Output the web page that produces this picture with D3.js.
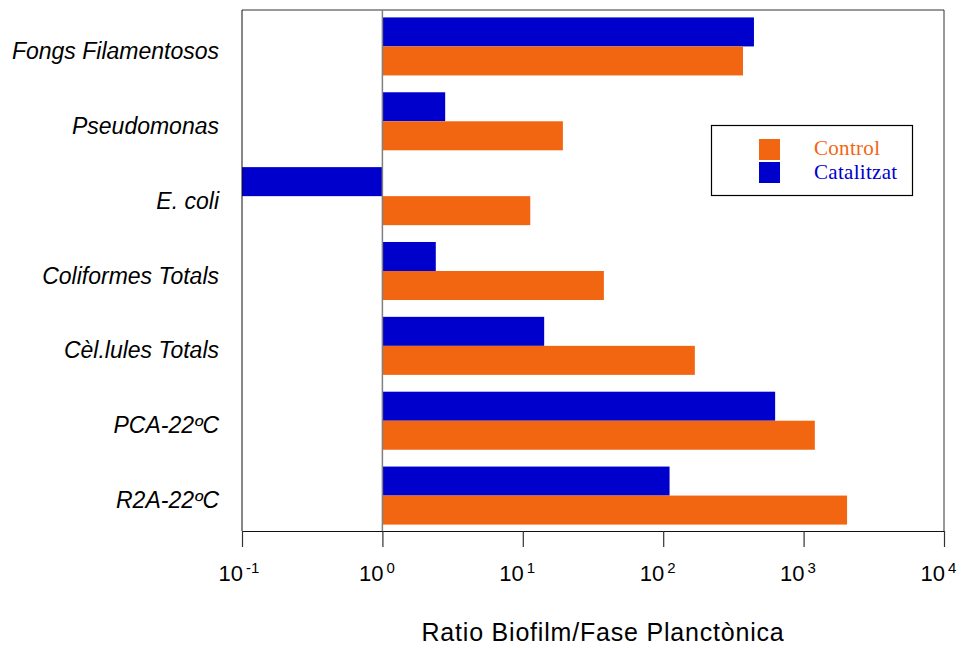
<!DOCTYPE html>
<html>
<head>
<meta charset="utf-8">
<script src="https://cdn.jsdelivr.net/npm/d3@7"></script>
<style>
body { margin: 0; background: #fff; }
</style>
</head>
<body>
<div id="chart"></div>
<script>
var categories = ["Fongs Filamentosos", "Pseudomonas", "E. coli", "Coliformes Totals", "Cèl.lules Totals", "PCA-22ºC", "R2A-22ºC"];
var series = ["Catalitzat", "Control"];
var catalitzat = [443, 2.8, 0.1, 2.4, 14.2, 627, 111];
var control = [370, 19.3, 11.3, 37.8, 168, 1202, 2040];
var tickValues = [0.1, 1, 10, 100, 1000, 10000];
var tickExp = ["-1", "0", "1", "2", "3", "4"];

var width = 964, height = 650;
var colors = { "Control": "#F26612", "Catalitzat": "#0000CC" };

var svg = d3.select("#chart").append("svg")
    .attr("width", width)
    .attr("height", height);

// escales
var x = d3.scaleLog().domain([0.1, 10000]).range([242, 944]);
var y0 = d3.scaleBand().domain(categories).range([9, 533]);
var y1 = d3.scaleBand().domain(series).range([0, y0.bandwidth()]).paddingOuter(0.29);

var rows = categories.map(function(c, i) {
    return { cat: c, vals: [
        { s: "Catalitzat", v: catalitzat[i] },
        { s: "Control", v: control[i] }
    ]};
});

// barres (comencen a 10^0)
var g = svg.selectAll("g.row").data(rows).enter().append("g")
    .attr("transform", function(d) { return "translate(0," + y0(d.cat) + ")"; });

g.selectAll("rect").data(function(d) { return d.vals; }).enter().append("rect")
    .attr("x", function(d) { return Math.min(x(1), x(d.v)); })
    .attr("width", function(d) { return Math.abs(x(d.v) - x(1)); })
    .attr("y", function(d) { return y1(d.s); })
    .attr("height", y1.bandwidth())
    .attr("fill", function(d) { return colors[d.s]; });

// marc
svg.append("line").attr("x1", 242).attr("x2", 944).attr("y1", 10).attr("y2", 10).attr("stroke", "#333");
svg.append("line").attr("x1", 944).attr("x2", 944).attr("y1", 10).attr("y2", 531).attr("stroke", "#333");
svg.append("line").attr("x1", 242).attr("x2", 242).attr("y1", 10).attr("y2", 531).attr("stroke", "#111");

// linia a 10^0
svg.append("line")
    .attr("x1", x(1)).attr("x2", x(1))
    .attr("y1", 10).attr("y2", 531)
    .attr("stroke", "#808080").attr("stroke-width", 1.5);

// eix x
var xAxis = d3.axisBottom(x).tickValues(tickValues).tickSize(16).tickFormat("");
var ax = svg.append("g").attr("transform", "translate(0,531)").call(xAxis);
ax.select(".domain").attr("stroke", "#111");
ax.selectAll(".tick line").attr("stroke", "#333").attr("stroke-width", 1.2);

var tl = svg.append("g").attr("font-family", "Liberation Sans, Arial, sans-serif").attr("fill", "#000");
tickValues.forEach(function(v, i) {
    tl.append("text").attr("x", x(v) + 1).attr("y", 581)
        .attr("text-anchor", "end").attr("font-size", 22).text("10");
    tl.append("text").attr("x", x(v) + 4).attr("y", 573)
        .attr("text-anchor", "start").attr("font-size", 15).text(tickExp[i]);
});

// etiquetes categories
svg.append("g").selectAll("text").data(categories).enter().append("text")
    .attr("x", 219)
    .attr("y", function(d) { return y0(d) + y0.bandwidth() / 2 + 12.5; })
    .attr("text-anchor", "end")
    .attr("font-family", "Liberation Sans, Arial, sans-serif")
    .attr("font-style", "italic")
    .attr("font-size", 23)
    .text(function(d) { return d; });

// titol eix
svg.append("text")
    .attr("x", 603).attr("y", 641)
    .attr("text-anchor", "middle")
    .attr("font-family", "Liberation Sans, Arial, sans-serif")
    .attr("font-size", 25)
    .attr("letter-spacing", 0.8)
    .text("Ratio Biofilm/Fase Planctònica");

// llegenda
var leg = svg.append("g");
leg.append("rect").attr("x", 711.5).attr("y", 125.5).attr("width", 201).attr("height", 70)
    .attr("fill", "#fff").attr("stroke", "#000").attr("stroke-width", 1.2);
["Control", "Catalitzat"].forEach(function(s, i) {
    leg.append("rect").attr("x", 759).attr("y", 139 + i * 23).attr("width", 21).attr("height", 21)
        .attr("fill", colors[s]);
    leg.append("text").attr("x", 814).attr("y", 155 + i * 24)
        .attr("font-family", "Liberation Serif, Times New Roman, serif")
        .attr("font-size", 21)
        .attr("letter-spacing", 0.3)
        .attr("fill", colors[s])
        .text(s);
});
</script>
</body>
</html>
